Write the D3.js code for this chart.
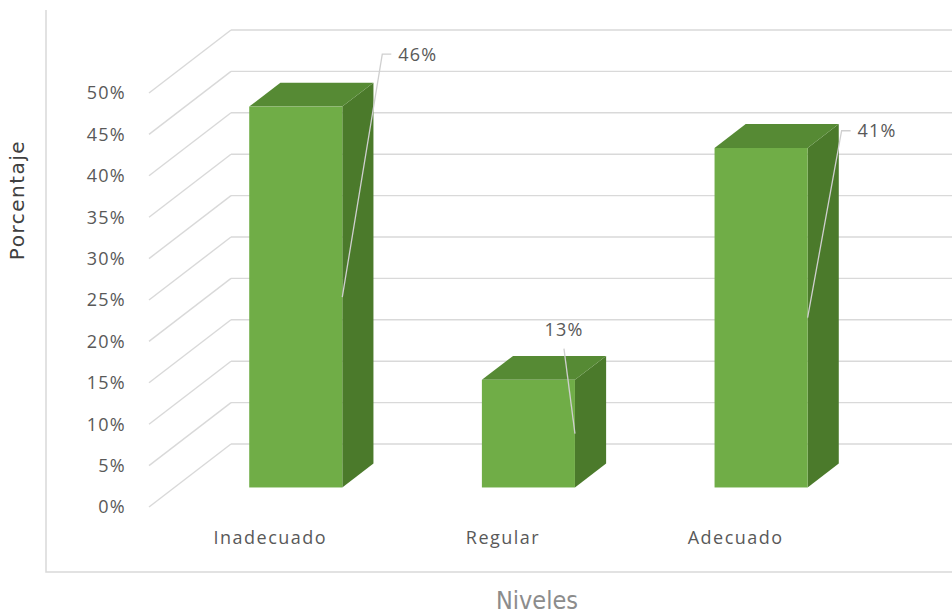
<!DOCTYPE html>
<html>
<head>
<meta charset="utf-8">
<script src="https://cdn.jsdelivr.net/npm/d3@7/dist/d3.min.js"></script>
<style>
  html, body { margin: 0; padding: 0; background: #ffffff; }
  svg { display: block; }
</style>
</head>
<body>
<svg id="chart" width="952" height="615"></svg>
<script>
// Data
const categories = ["Inadecuado", "Regular", "Adecuado"];
const values = [0.46, 0.13, 0.41];
const valueLabels = ["46%", "13%", "41%"];
const tickValues = [0, 0.05, 0.10, 0.15, 0.20, 0.25, 0.30, 0.35, 0.40, 0.45, 0.50];
const axisTitleY = "Porcentaje";
const axisTitleX = "Niveles";

// Layout
const W = 952, H = 615;
const depthX = 82, depthY = 63;          // oblique offset of the back wall
const barZ0 = 0.31, barZ1 = 0.69;        // bar depth inside the plot box
const wallLeft = 149;
const colors = {
  grid: "#d9d9d9",
  frame: "#d9d9d9",
  text: "#595959",
  front: "#70ad47",
  top: "#568a34",
  side: "#4b7a2b",
  leader: "#cfcfcf"
};
// data label leader placement relative to bar front-right edge at mid height
const labelLayout = [
  { ex: 40, ey: -243, mode: "right" },
  { ex: -11, ey: -85, mode: "above" },
  { ex: 34, ey: -187, mode: "right" }
];

const svg = d3.select("#chart");
const x = d3.scaleBand().domain(categories).range([154, 852]).paddingInner(0.6).paddingOuter(0.3);
const y = d3.scaleLinear().domain([0, 0.5]).range([507, 93]);
const fmt = d3.format(".0%");

const px = (xf, z) => xf + depthX * z;
const py = (yf, z) => yf - depthY * z;

// outer chart frame
svg.append("path")
  .attr("d", `M46,10 L46,572 L${W},572`)
  .attr("fill", "none")
  .attr("stroke", colors.frame)
  .attr("stroke-width", 1.5);

// side wall and back wall gridlines
const grid = svg.append("g");
tickValues.forEach(v => {
  const yf = y(v);
  grid.append("line")
    .attr("x1", wallLeft).attr("y1", yf)
    .attr("x2", px(wallLeft, 1)).attr("y2", py(yf, 1))
    .attr("stroke", colors.grid).attr("stroke-width", 1.4);
  grid.append("line")
    .attr("x1", px(wallLeft, 1)).attr("y1", py(yf, 1))
    .attr("x2", W).attr("y2", py(yf, 1))
    .attr("stroke", colors.grid).attr("stroke-width", 1.4);
});

// y tick labels
svg.append("g").selectAll("text").data(tickValues).join("text")
  .attr("x", 126)
  .attr("y", d => y(d))
  .attr("dy", "0.36em")
  .attr("text-anchor", "end")
  .attr("font-family", "'Open Sans', sans-serif")
  .attr("font-size", 18)
  .attr("letter-spacing", 1.3)
  .attr("fill", colors.text)
  .text(d => fmt(d));

// 3D bars
const bars = svg.append("g");
const anchors = [];
categories.forEach((c, i) => {
  const v = values[i];
  const xa = x(c), xb = x(c) + x.bandwidth();
  const y0 = y(0), y1 = y(v);
  const fx0 = px(xa, barZ0), fx1 = px(xb, barZ0);
  const fyTop = py(y1, barZ0), fyBot = py(y0, barZ0);
  const bx0 = px(xa, barZ1), bx1 = px(xb, barZ1);
  const byTop = py(y1, barZ1), byBot = py(y0, barZ1);
  const g = bars.append("g");
  // right side face
  g.append("path")
    .attr("d", `M${fx1},${fyTop} L${bx1},${byTop} L${bx1},${byBot} L${fx1},${fyBot} Z`)
    .attr("fill", colors.side);
  // top face
  g.append("path")
    .attr("d", `M${fx0},${fyTop} L${bx0},${byTop} L${bx1},${byTop} L${fx1},${fyTop} Z`)
    .attr("fill", colors.top);
  // front face
  g.append("rect")
    .attr("x", fx0).attr("y", fyTop)
    .attr("width", fx1 - fx0).attr("height", fyBot - fyTop)
    .attr("fill", colors.front);
  anchors.push([fx1, (fyTop + fyBot) / 2]);
});

// data labels with leader lines
const labels = svg.append("g");
anchors.forEach(([ax, ay], i) => {
  const L = labelLayout[i];
  const ex = ax + L.ex, ey = ay + L.ey;
  if (L.mode === "right") {
    labels.append("path")
      .attr("d", `M${ax},${ay} L${ex},${ey} L${ex + 9},${ey}`)
      .attr("fill", "none").attr("stroke", colors.leader).attr("stroke-width", 1.3);
    labels.append("text")
      .attr("x", ex + 16).attr("y", ey).attr("dy", "0.36em")
      .attr("font-family", "'Open Sans', sans-serif")
      .attr("font-size", 18).attr("letter-spacing", 1.2)
      .attr("fill", colors.text)
      .text(valueLabels[i]);
  } else {
    labels.append("path")
      .attr("d", `M${ax},${ay} L${ex},${ey}`)
      .attr("fill", "none").attr("stroke", colors.leader).attr("stroke-width", 1.3);
    labels.append("text")
      .attr("x", ex).attr("y", ey - 19).attr("dy", "0.36em")
      .attr("text-anchor", "middle")
      .attr("font-family", "'Open Sans', sans-serif")
      .attr("font-size", 18).attr("letter-spacing", 1.2)
      .attr("fill", colors.text)
      .text(valueLabels[i]);
  }
});

// category labels
svg.append("g").selectAll("text").data(categories).join("text")
  .attr("x", d => x(d) + x.bandwidth() / 2)
  .attr("y", 538)
  .attr("dy", "0.36em")
  .attr("text-anchor", "middle")
  .attr("font-family", "'Open Sans', sans-serif")
  .attr("font-size", 18)
  .attr("letter-spacing", 1.5)
  .attr("fill", colors.text)
  .text(d => d);

// axis titles
svg.append("text")
  .attr("transform", "translate(17,200) rotate(-90)")
  .attr("dy", "0.36em")
  .attr("text-anchor", "middle")
  .attr("font-family", "'DejaVu Sans', sans-serif")
  .attr("font-size", 20)
  .attr("letter-spacing", 1.5)
  .attr("fill", "#404040")
  .text(axisTitleY);

svg.append("text")
  .attr("x", 537)
  .attr("y", 600)
  .attr("dy", "0.36em")
  .attr("text-anchor", "middle")
  .attr("font-family", "'Liberation Sans Narrow', 'DejaVu Sans Condensed', sans-serif")
  .attr("font-size", 25)
  .attr("fill", "#8c8c8c")
  .text(axisTitleX);
</script>
</body>
</html>
